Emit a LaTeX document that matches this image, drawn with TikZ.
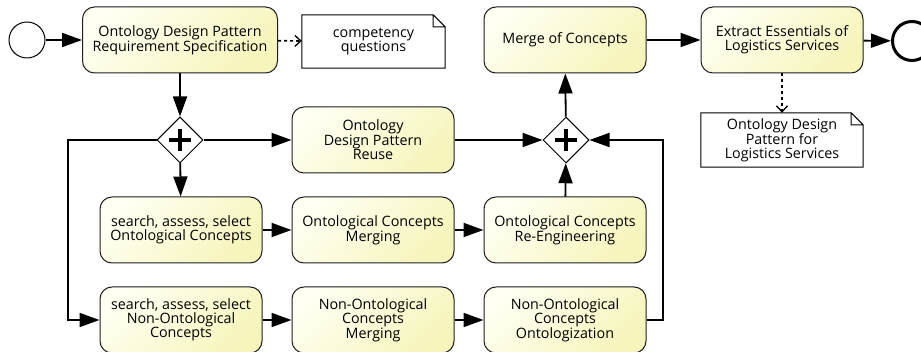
\documentclass[tikz,border=0pt]{standalone}
\usepackage{fontspec}
\setmainfont{Open Sans}
\usetikzlibrary{arrows.meta,shapes.geometric}

\definecolor{taskfillA}{RGB}{255,255,242}
\definecolor{taskfillB}{RGB}{246,245,188}
\definecolor{taskline}{RGB}{30,30,30}

\tikzset{
  task/.style={draw=taskline, line width=1pt, rounded corners=12pt,
    minimum width=162pt, minimum height=66pt, inner sep=1pt, align=center,
    top color=taskfillA, bottom color=taskfillB, shading angle=45,
    font=\fontsize{14.3}{13.9}\selectfont},
  gateway/.style={draw, diamond, fill=white, line width=1pt, inner sep=0pt,
    minimum width=46pt, minimum height=46pt,
    path picture={
      \draw[line width=3.2pt] ([xshift=-11pt]path picture bounding box.center) -- ([xshift=11pt]path picture bounding box.center);
      \draw[line width=3.2pt] ([yshift=-11pt]path picture bounding box.center) -- ([yshift=11pt]path picture bounding box.center);}},
  startevent/.style={draw, circle, line width=1pt, minimum size=36pt, inner sep=0pt},
  endevent/.style={draw, circle, line width=3pt, minimum size=39pt, inner sep=0pt},
  note/.style={minimum width=143pt, minimum height=53pt, inner sep=1pt, align=center,
    font=\fontsize{14.3}{13.9}\selectfont},
  flow/.style={line width=1.8pt, -{Triangle[length=20pt,width=14pt]}},
  assoc/.style={line width=1.7pt, dash pattern=on 3pt off 3pt,
    -{Straight Barb[length=6pt,width=11pt,line width=1.3pt]}}
}

\begin{document}
\begin{tikzpicture}[x=1pt,y=-1pt]
\useasboundingbox (0,0) rectangle (921,352);

% Ereignisse und Aufgaben
\node[startevent] (start) at (27,40) {};
\node[task, minimum width=195pt] (spec) at (180,40) {Ontology Design Pattern\\Requirement Specification};
\node[note] (cq) at (373.5,41.5) {competency\\questions};
\node[gateway] (split) at (180,140) {};
\node[task] (reuse) at (373,140) {Ontology\\Design Pattern\\Reuse};
\node[task] (selont) at (181,230) {search, assess, select\\Ontological Concepts};
\node[task] (mergeont) at (373,230) {Ontological Concepts\\Merging};
\node[task] (reeng) at (565,230) {Ontological Concepts\\Re-Engineering};
\node[task] (selnon) at (181,320) {search, assess, select\\Non-Ontological\\Concepts};
\node[task] (mergenon) at (373,320) {Non-Ontological\\Concepts\\Merging};
\node[task] (ontolog) at (565,320) {Non-Ontological\\Concepts\\Ontologization};
\node[gateway] (join) at (566,140) {};
\node[task] (merge) at (565,40) {Merge of Concepts};
\node[task] (extract) at (782,40) {Extract Essentials of\\Logistics Services};
\node[endevent] (end) at (912,41) {};
\node[note, minimum width=162pt, minimum height=54pt] (odp) at (782,140) {Ontology Design\\Pattern for\\Logistics Services};

% Notizen mit Eselsohr
\foreach \n in {cq, odp}
  \draw[line width=1pt] (\n.north west) -- ([xshift=-12pt]\n.north east) -- ([yshift=-12pt]\n.north east)
    -- (\n.south east) -- (\n.south west) -- cycle
    ([xshift=-12pt]\n.north east) -- ([xshift=-12pt,yshift=-12pt]\n.north east) -- ([yshift=-12pt]\n.north east);

% Sequenzfluesse
\draw[flow] (start) -- (spec);
\draw[flow] (spec) -- (split);
\draw[flow] (split) -- (reuse);
\draw[flow] (split) -- (selont);
\draw[flow] (split.west) -- (68,140) -- (68,320) -- (selnon.west);
\draw[flow] (selont) -- (mergeont);
\draw[flow] (mergeont) -- (reeng);
\draw[flow] (selnon) -- (mergenon);
\draw[flow] (mergenon) -- (ontolog);
\draw[flow] (reuse) -- (join);
\draw[flow] (reeng) -- (join);
\draw[flow] (ontolog.east) -- (663,320) -- (663,140) -- (join.east);
\draw[flow] (join) -- (merge);
\draw[flow] (merge) -- (extract);
\draw[flow] (extract) -- (end);

% Assoziationen
\draw[assoc] (spec) -- (cq);
\draw[assoc] (extract) -- (odp);
\end{tikzpicture}
\end{document}
